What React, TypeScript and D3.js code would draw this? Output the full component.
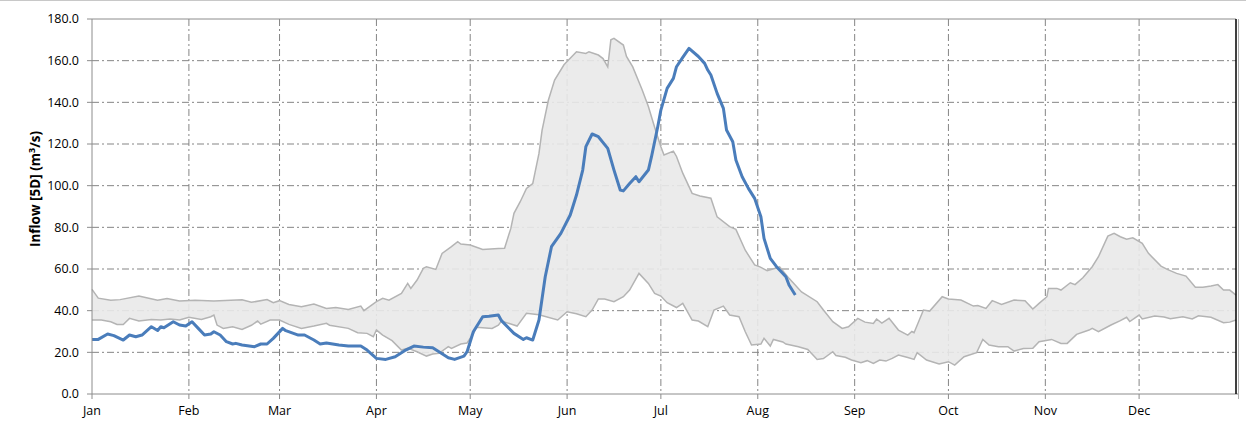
import React from "react";
import * as d3 from "d3";

// day-of-year (leap year) and value pairs
const upperBand: [number, number][] = [
  [0, 50.2], [2, 46], [6, 45], [9, 45.3], [15, 47], [21, 45], [24, 45.8], [28, 44.6], [33, 45],
  [39, 44.6], [48, 45.2], [51, 44], [56, 45.3], [58, 43.8], [60, 44.8], [63, 43], [67, 41.9],
  [71, 43.2], [75, 41.1], [78, 41.5], [82, 40.6], [86, 42.2], [87, 40], [91, 44.3], [93, 45.9],
  [95, 45], [99, 48.3], [101, 53.1], [102, 50.7], [104, 54.7], [106, 60.3], [107, 61.1], [110, 59.8],
  [112, 67.5], [115, 70.7], [117, 73.1], [118, 72], [121, 71.5], [125, 69.4], [130, 69.8], [132, 70],
  [134, 79.5], [135, 86.7], [137, 92.3], [139, 98.7], [141, 101], [143, 115.5], [144, 126.7],
  [146, 141], [148, 150.7], [151, 158], [155, 164.3], [158, 163.5], [159, 164.3], [162, 162.7],
  [163.5, 161], [165, 157], [166, 170], [167, 170.7], [170, 167.5], [171, 162], [173, 157],
  [176, 146], [178, 138], [180, 128], [182, 118.7], [183, 114.7], [186, 116.6], [187, 114],
  [189, 106], [192, 96.3], [194.5, 95], [198, 94], [200, 85], [204, 80.3], [206, 79], [209, 69],
  [212, 62], [213.7, 61], [216, 59.2], [220, 61], [223, 55.5], [227, 49], [232, 44.3], [234, 40.3],
  [237, 34.7], [240, 31.5], [242, 32.3], [245, 36.3], [247.3, 34.5], [250, 33.9], [251, 36],
  [252.7, 34], [255, 36.3], [258, 30.7], [261, 28.3], [262.3, 30], [263, 29.4], [266, 40.3],
  [268, 39.8], [272, 46.7], [274, 45.6], [278, 45.1], [282, 42.2], [283.4, 42.5], [286, 41.1],
  [288, 44.8], [291, 43], [295, 45.1], [298.5, 44.8], [301, 40.8], [303, 43.5], [305.5, 46.7],
  [306, 50.7], [308.7, 50.7], [310, 49.9], [313, 53.4], [314.5, 52.5], [317, 55.8], [320, 61.1],
  [322, 65.9], [325, 75.8], [327, 77.1], [329, 75.5], [331, 74.3], [333, 75], [336, 72.3],
  [338, 67.5], [342, 61.4], [344, 59.8], [347, 57.9], [350, 56.6], [353, 51.2], [355.4, 51.2],
  [358, 51.8], [360.2, 52.5], [362, 49.9], [364, 49.9], [366, 47.5],
];

const lowerBand: [number, number][] = [
  [0, 35.5], [3, 35.5], [6, 34.7], [8, 33.4], [10, 33.4], [12, 36.3], [15, 35], [19, 35.8],
  [22, 35.5], [25, 36], [28, 35.5], [31, 36.8], [35, 35.8], [38, 37.1], [39, 37.9], [40, 33.1],
  [42, 31.5], [45, 32.3], [48, 31], [51, 33], [53, 35], [54, 33.5], [57, 35.5], [60, 35.5],
  [63, 33.4], [67, 31.5], [71, 32.6], [75, 33.9], [76, 33], [82, 31.5], [85, 29.4], [88, 29.1],
  [90, 27.5], [91, 30.7], [93, 28.3], [96, 25.6], [99, 21.1], [101, 22], [104, 20.3], [107, 18.2],
  [109, 19.2], [111, 19.5], [114, 22.7], [115, 21.9], [118, 24], [120, 24.5], [122, 29], [123, 32],
  [128, 31.5], [130, 33], [131, 35], [134, 33.6], [136, 32.6], [139, 38.7], [143, 38], [149, 35.5],
  [152, 39.5], [155, 38.5], [158, 37.1], [160, 40.3], [162, 45.6], [164, 45.6], [167, 44.3],
  [170, 46.7], [172, 49.9], [175, 57.9], [178, 53.1], [180, 48.3], [182, 47], [184, 43.8],
  [187, 41.5], [189, 43.5], [192, 35.5], [194, 35], [197, 32.3], [199, 40.3], [202, 42.2],
  [204, 37.9], [207, 37.1], [209, 29.9], [211, 23.5], [214, 24], [215, 26.7], [217, 23], [218, 26.2],
  [221, 25], [222, 24], [226, 22.7], [229, 21.4], [232, 16.6], [234, 17], [237, 20.3], [238, 18.5],
  [241, 17.6], [243, 16.3], [246, 15], [248, 16], [250, 14.7], [252, 16.3], [254, 15.8], [256, 17.1],
  [258, 18.7], [261, 17.5], [263, 16.6], [264, 19.8], [267, 16.3], [271, 14.4], [274, 15.5],
  [276, 13.9], [279, 17.9], [283, 19.8], [285, 26.2], [287, 23.5], [290, 22.7], [293, 22.7],
  [295, 20.6], [298, 21.8], [301, 21.9], [303, 25.1], [307, 26.2], [310, 24.3], [312, 24.3],
  [315, 28.6], [319, 30.7], [320, 31.5], [322, 29.9], [326, 33.1], [329, 35.2], [331, 36.8],
  [332, 34.8], [335, 37.9], [336, 36], [340, 37.4], [343, 37], [345, 36.1], [349, 37.1], [352, 36],
  [354, 37.5], [358, 36.8], [362, 34.2], [364, 34.5], [366, 35.5],
];

const inflow: [number, number][] = [
  [0, 26.2], [2, 26.2], [5, 28.8], [7, 28], [10, 25.9], [12, 28.3], [14, 27.5], [16, 28.3],
  [19, 32.3], [21, 30.5], [22, 32.3], [23, 31.8], [26, 34.7], [28, 33.1], [30, 32.6], [32, 34.7],
  [34, 31.5], [36, 28.3], [38, 28.8], [39, 29.9], [41, 28.3], [43, 25.1], [45, 24], [46, 24.3],
  [48, 23.5], [52, 22.7], [54, 24], [56, 24], [58, 26.7], [61, 31.5], [62, 30.4], [66, 28.3],
  [68, 28.3], [71, 25.9], [73, 24], [75, 24.5], [79, 23.5], [82, 23], [86, 23], [88, 21.1],
  [91, 17.1], [94, 16.6], [97, 17.9], [100, 20.8], [103, 23], [106, 22.5], [109, 22.2], [111, 20.3],
  [114, 17.4], [116, 16.6], [119, 18.2], [120, 20.3], [122, 29.9], [125, 37.1], [127, 37.3],
  [130, 37.9], [131, 35.2], [135, 29.1], [138, 26.2], [139, 27], [141, 25.9], [143, 35.5],
  [145, 56.3], [147, 70.7], [150, 77.1], [153, 85.9], [155, 95.5], [157, 107.5], [158, 118.7],
  [160, 124.8], [162, 123.5], [165, 117.9], [167, 107.5], [169, 97.9], [170, 97.5], [172, 101],
  [174, 104.3], [175, 101.9], [178, 107.5], [179, 113.9], [181, 128.3], [182, 136.3], [184, 146.7],
  [186, 151.5], [187, 157.1], [189, 161.6], [191, 165.9], [194, 162], [196, 158.7], [197, 155.5],
  [198, 153.1], [200, 144.3], [202, 137.1], [203, 126.7], [205, 121.1], [206, 112.3], [208, 104.3],
  [210, 98.7], [212, 93.9], [214, 85.1], [215, 74.7], [217, 65.1], [219, 61.1], [222, 56.3],
  [223, 52.3], [225, 47.5],
];

const monthStarts = [0, 31, 60, 91, 121, 152, 182, 213, 244, 274, 305, 335];
const monthLabels = ["Jan", "Feb", "Mar", "Apr", "May", "Jun", "Jul", "Aug", "Sep", "Oct", "Nov", "Dec"];
const yTicks = [0, 20, 40, 60, 80, 100, 120, 140, 160, 180];

const W = 1246;
const H = 424;
const margin = { top: 19, right: 10, bottom: 30, left: 92 };
const font = "'Open Sans', 'Noto Sans', sans-serif";

export default function App() {
  const x = d3.scaleLinear().domain([0, 366]).range([margin.left, W - margin.right]);
  const y = d3.scaleLinear().domain([0, 180]).range([H - margin.bottom, margin.top]);

  const line = d3.line<[number, number]>().x(d => x(d[0])).y(d => y(d[1]));
  const bandPath = line([...upperBand, ...lowerBand.slice().reverse()]) + "Z";

  const x0 = x(0);
  const x1 = x(366);
  const yb = y(0);
  const yt = y(180);
  const dash = "7,3,2,3";

  return (
    <svg width={W} height={H} style={{ position: "absolute", left: 0, top: 0, background: "#fff" }}>
      <line x1={0} x2={W} y1={0.5} y2={0.5} stroke="#c8c8c8" strokeWidth={1} />

      {/* grid */}
      {yTicks.slice(1, -1).map(t => (
        <line key={"h" + t} x1={x0} x2={x1} y1={y(t)} y2={y(t)} stroke="#858585" strokeWidth={1} strokeDasharray={dash} />
      ))}
      {monthStarts.slice(1).map(m => (
        <line key={"v" + m} x1={x(m)} x2={x(m)} y1={yt} y2={yb} stroke="#858585" strokeWidth={1} strokeDasharray={dash} />
      ))}
      <line x1={x0} x2={x1} y1={yt} y2={yt} stroke="#8c8c8c" strokeWidth={1} />

      {/* band */}
      <path d={bandPath} fill="#e9e9e9" fillOpacity={0.9} stroke="none" />
      <path d={line(upperBand) || ""} fill="none" stroke="#b4b4b4" strokeWidth={1.5} />
      <path d={line(lowerBand) || ""} fill="none" stroke="#b4b4b4" strokeWidth={1.5} />

      {/* inflow */}
      <path d={line(inflow) || ""} fill="none" stroke="#4a7dbb" strokeWidth={3} strokeLinejoin="round" />

      {/* axes */}
      <line x1={x0} x2={x0} y1={yt} y2={yb} stroke="#8c8c8c" strokeWidth={1} />
      <line x1={x0} x2={x1 + 2} y1={yb} y2={yb} stroke="#8c8c8c" strokeWidth={1} />
      <line x1={x1} x2={x1} y1={yt} y2={yb} stroke="#000" strokeWidth={1.5} />
      <line x1={x1 + 2.5} x2={x1 + 2.5} y1={yt} y2={yb + 5} stroke="#b0b0b0" strokeWidth={1} />
      {yTicks.map(t => (
        <g key={"yt" + t}>
          <line x1={x0 - 5} x2={x0} y1={y(t)} y2={y(t)} stroke="#8c8c8c" />
          <text x={x0 - 13} y={y(t)} dy="0.35em" textAnchor="end" fontFamily={font} fontSize={12.5} fill="#000">
            {t.toFixed(1)}
          </text>
        </g>
      ))}
      {monthStarts.map((m, i) => (
        <g key={"xt" + m}>
          <line x1={x(m)} x2={x(m)} y1={yb} y2={yb + 5} stroke="#8c8c8c" />
          <text x={x(m)} y={yb + 21} textAnchor="middle" fontFamily={font} fontSize={12.5} fill="#000">
            {monthLabels[i]}
          </text>
        </g>
      ))}
      <text
        transform={`translate(40,189) rotate(-90)`}
        textAnchor="middle"
        fontFamily={font}
        fontSize={13.5}
        fontWeight="bold"
        fill="#000"
      >
        Inflow [5D] (m<tspan dy={-5} fontSize={9}>3</tspan><tspan dy={5}>/s)</tspan>
      </text>
    </svg>
  );
}
